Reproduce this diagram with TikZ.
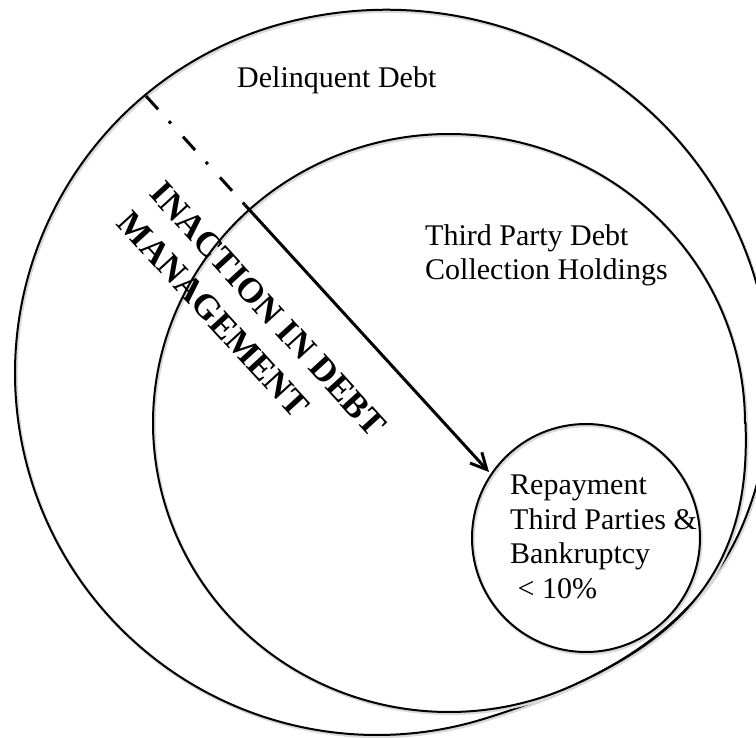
\documentclass[tikz,border=0pt]{standalone}
\usepackage{fontspec}
\setmainfont{Liberation Serif}
\usetikzlibrary{arrows.meta}
\begin{document}
\begin{tikzpicture}[x=1pt,y=-1pt,
  declare function={
    ob(\myd)=(\myd<0)*(\myd>-127)*34*cos(\myd*90/127)*cos(\myd*90/127)
            +(1-(\myd<0))*(\myd<51)*34*cos(\myd*90/51)*cos(\myd*90/51);
    orad(\mya)=362+ob(mod(\mya+518,360)-180);
    mb(\mys)=(\mys>-5)*(\mys<65)*10*cos((\mys-30)*18/7)*cos((\mys-30)*18/7);
  },
  ring/.style={draw=black, line width=2pt, preaction={draw=black!15, line width=3pt, transform canvas={shift={(1.2pt,-1.6pt)}}}},
  lbl/.style={font=\fontsize{30}{34.5}\selectfont, inner sep=0pt, align=left},
  boldlbl/.style={font=\fontsize{35}{44}\selectfont\bfseries, inner sep=0pt, align=left},
  dashdotline/.style={line width=3pt, dash pattern=on 18pt off 16pt on 3pt off 18pt},
  arrowline/.style={line width=3pt, -{Straight Barb[length=16pt,width=16pt]}}
]
\useasboundingbox (0,0) rectangle (756,738);
\fill[white] (0,0) rectangle (756,738);
\clip (0,0) rectangle (756,738);

% outer ring: Delinquent Debt
\draw[ring] plot[domain=0:360, samples=361, variable=\myt]
  ({377+orad(\myt)*cos(\myt)}, {373+orad(\myt)*sin(\myt)}) -- cycle;

% middle ring: Third Party Debt Collection Holdings
\draw[ring] plot[domain=0:360, samples=361, variable=\myu]
  ({449+(296+mb(\myu))*cos(\myu)}, {423+(289+mb(\myu))*sin(\myu)}) -- cycle;

% inner circle
\node[ring, circle, minimum size=228pt, inner sep=0pt] (rep) at (586,538) {};

% labels
\node[lbl, anchor=base west] (dd) at (237,88) {Delinquent Debt};
\node[lbl, anchor=base west] (tp) at (425,280) {Third Party Debt\\Collection Holdings};
\node[lbl, anchor=base west] (rt) at (510,598) {Repayment\\Third Parties \&\\Bankruptcy\\\hspace*{7.5pt}< 10\%};
\node[boldlbl, rotate=-47.5] (inact) at (252,324) {INACTION IN DEBT\\MANAGEMENT};

% arrow
\coordinate (ddstart) at (146,96);
\coordinate (ddmid) at (245,205);
\coordinate (tip) at (489,472);
\draw[dashdotline] (ddstart) -- (ddmid);
\draw[arrowline] (ddmid) -- (tip);
\end{tikzpicture}
\end{document}
